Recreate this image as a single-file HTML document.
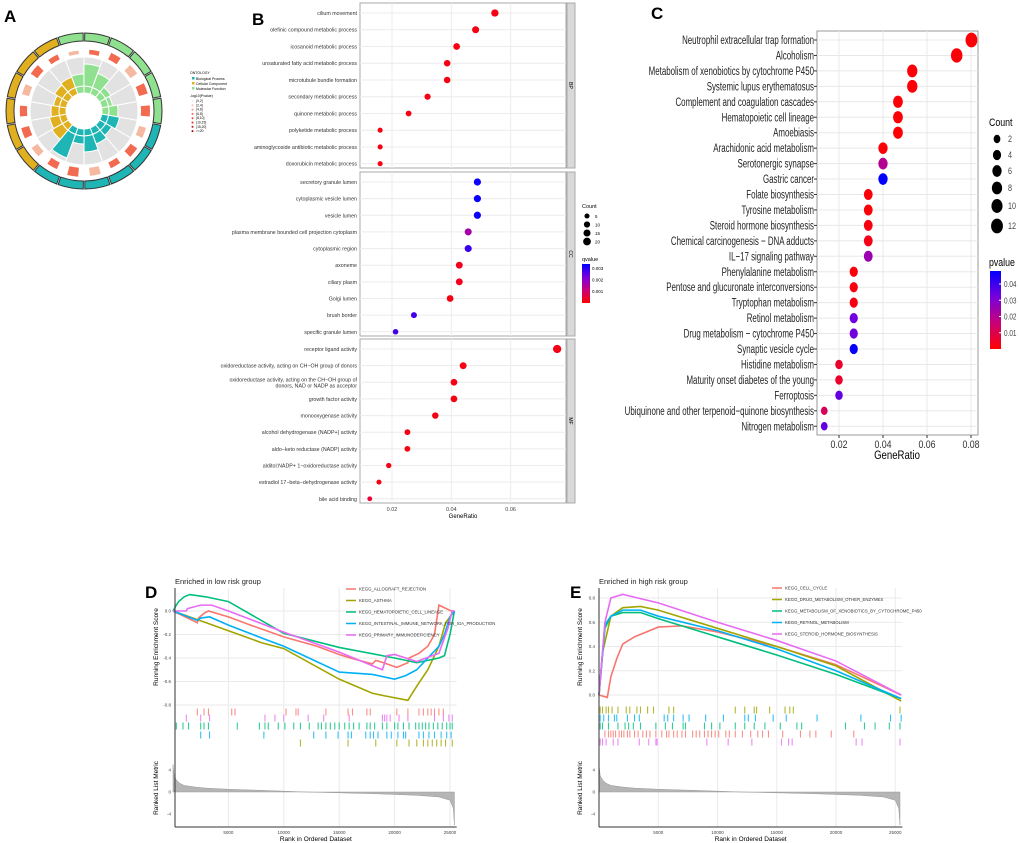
<!DOCTYPE html>
<html><head><meta charset="utf-8"><style>
body{margin:0;background:#fff;}
svg{display:block;font-family:"Liberation Sans",sans-serif;}
</style></head><body>
<svg id="fig" width="1020" height="843" viewBox="0 0 1020 843" xmlns="http://www.w3.org/2000/svg">
<g id="pA"></g>
<g id="pB"></g>
<g id="pC"></g>
<g id="pD"></g>
<g id="pE"></g>
</svg>
<script>
// ---------- Panel B data ----------
const bpTerms=["cilium movement","olefinic compound metabolic process","icosanoid metabolic process","unsaturated fatty acid metabolic process","microtubule bundle formation","secondary metabolic process","quinone metabolic process","polyketide metabolic process","aminoglycoside antibiotic metabolic process","doxorubicin metabolic process"];
const bpRatio=[0.0547,0.0482,0.0418,0.0386,0.0386,0.032,0.0256,0.016,0.016,0.016];
const bpCount=[17,15,13,12,12,10,8,5,5,5];
const bpQ=[0.0002,0.0002,0.0002,0.0002,0.0002,0.0002,0.0002,0.0002,0.0002,0.0002];
const ccTerms=["secretory granule lumen","cytoplasmic vesicle lumen","vesicle lumen","plasma membrane bounded cell projection cytoplasm","cytoplasmic region","axoneme","ciliary plasm","Golgi lumen","brush border","specific granule lumen"];
const ccRatio=[0.0488,0.0488,0.0488,0.0457,0.0457,0.0427,0.0427,0.0396,0.0274,0.0212];
const ccCount=[16,16,16,15,15,14,14,13,9,7];
const ccQ=[0.0036,0.0036,0.0036,0.0018,0.0031,0.0003,0.0003,0.0002,0.003,0.003];
const mfTerms=["receptor ligand activity","oxidoreductase activity, acting on CH\u2212OH group of donors","oxidoreductase activity, acting on the CH\u2212OH group of|donors, NAD or NADP as acceptor","growth factor activity","monooxygenase activity","alcohol dehydrogenase (NADP+) activity","aldo\u2212keto reductase (NADP) activity","alditol:NADP+ 1\u2212oxidoreductase activity","estradiol 17\u2212beta\u2212dehydrogenase activity","bile acid binding"];
const mfRatio=[0.0757,0.044,0.0409,0.0409,0.0346,0.0252,0.0252,0.0189,0.0156,0.0125];
const mfCount=[24,14,13,13,11,8,8,6,5,4];
const mfQ=[0.0002,0.0002,0.0002,0.0002,0.0002,0.0002,0.0002,0.0002,0.0002,0.0005];
const bXTicks=[0.02,0.04,0.06];
// ---------- Panel C data ----------
const cTerms=["Neutrophil extracellular trap formation","Alcoholism","Metabolism of xenobiotics by cytochrome P450","Systemic lupus erythematosus","Complement and coagulation cascades","Hematopoietic cell lineage","Amoebiasis","Arachidonic acid metabolism","Serotonergic synapse","Gastric cancer","Folate biosynthesis","Tyrosine metabolism","Steroid hormone biosynthesis","Chemical carcinogenesis \u2212 DNA adducts","IL\u221217 signaling pathway","Phenylalanine metabolism","Pentose and glucuronate interconversions","Tryptophan metabolism","Retinol metabolism","Drug metabolism \u2212 cytochrome P450","Synaptic vesicle cycle","Histidine metabolism","Maturity onset diabetes of the young","Ferroptosis","Ubiquinone and other terpenoid\u2212quinone biosynthesis","Nitrogen metabolism"];
const cRatio=[0.0802,0.0735,0.0533,0.0533,0.0468,0.0468,0.0468,0.04,0.04,0.04,0.0333,0.0333,0.0333,0.0333,0.0333,0.0267,0.0267,0.0267,0.0267,0.0267,0.0267,0.02,0.02,0.02,0.0133,0.0133];
const cCount=[12,11,8,8,7,7,7,6,6,6,5,5,5,5,5,4,4,4,4,4,4,3,3,3,2,2];
const cP=[0.001,0.001,0.001,0.001,0.001,0.001,0.001,0.001,0.02,0.048,0.001,0.001,0.002,0.003,0.025,0.001,0.002,0.002,0.033,0.033,0.047,0.006,0.006,0.035,0.012,0.035];
const cXTicks=[0.02,0.04,0.06,0.08];
const cCountLegend=[2,4,6,8,10,12];
const cPLegend=[0.01,0.02,0.03,0.04];
// ---------- Panel D data (rank in thousands, ES) ----------
const dNames=["KEGG_ALLOGRAFT_REJECTION","KEGG_ASTHMA","KEGG_HEMATOPOIETIC_CELL_LINEAGE","KEGG_INTESTINAL_IMMUNE_NETWORK_FOR_IGA_PRODUCTION","KEGG_PRIMARY_IMMUNODEFICIENCY"];
const dRedX=[0,2.2,2.3,2.8,3.2,5,7,10,13,15,16,18,18.3,19,20.2,21.2,21.3,22.2,23,23.6,24,25.1,25.4];
const dRedY=[0,-0.1,-0.06,-0.02,0,-0.05,-0.12,-0.22,-0.3,-0.37,-0.4,-0.45,-0.42,-0.44,-0.48,-0.44,-0.4,-0.36,-0.3,-0.2,0.05,0,0];
const dOliveX=[0,3,8,10,15,18,19,21.2,22,23,24,24.6,25,25.4];
const dOliveY=[0,-0.1,-0.27,-0.32,-0.58,-0.7,-0.72,-0.76,-0.64,-0.5,-0.3,-0.1,-0.05,0];
const dGreenX=[0,0.3,0.5,1,1.5,3,5,10,15,20,21.5,22,23,24,24.5,25,25.4];
const dGreenY=[0,0.05,0.08,0.12,0.14,0.12,0.08,-0.19,-0.31,-0.4,-0.43,-0.44,-0.42,-0.4,-0.38,-0.2,0];
const dBlueX=[0,2.2,2.5,3.3,5,8.3,10,15,18,20,21,22,23,24,24.5,25,25.4];
const dBlueY=[0,-0.08,-0.06,-0.05,-0.12,-0.24,-0.3,-0.52,-0.54,-0.58,-0.55,-0.5,-0.4,-0.3,-0.2,-0.05,0];
const dMagX=[0,1.2,1.3,2.5,3.5,5,10,15,18.9,19.3,20,22,24,24.8,25.2,25.4];
const dMagY=[0,0,0.02,0.05,0.05,0,-0.18,-0.35,-0.5,-0.38,-0.37,-0.43,-0.36,-0.15,0,0];
const dHitsRed=[2.2,2.8,3.2,5.3,5.6,10.2,11.1,11.3,13.8,15.8,16.2,17.5,17.8,20.2,21.2,22.2,22.6,23,23.3,23.6,24,24.4];
const dHitsMag=[1.2,2.5,3.3,8.3,9.2,10,12.2,13.6,15.9,18.9,19.1,19.3,19.6,20.4,21.2,23.6,24.4,24.9,25.2];
const dHitsGreen=[0.3,0.9,1.4,2.5,2.8,3.2,5.8,7.8,8.3,8.6,9.5,10.1,10.9,11.5,12.3,13.1,13.4,13.8,14.2,14.6,15,15.5,15.9,16.3,16.8,17.5,17.8,18.2,18.9,19.3,20,20.3,20.8,21.3,21.9,22.2,22.5,22.8,23.1,23.5,23.9,24.3,24.7,25,25.2];
const dHitsBlue=[2.5,3.3,8.2,12.7,13.8,14.9,15.8,16.1,17.4,17.8,18.1,18.5,19.3,19.7,20.3,20.8,21,22.2,22.6,23.1,23.6,24.2,24.7,25.1];
const dHitsOlive=[11.5,15.8,18.3,20.2,21.3,22,22.6,23,23.4,23.8,24.2,24.6,25.2];
// ---------- Panel E data ----------
const eNames=["KEGG_CELL_CYCLE","KEGG_DRUG_METABOLISM_OTHER_ENZYMES","KEGG_METABOLISM_OF_XENOBIOTICS_BY_CYTOCHROME_P450","KEGG_RETINOL_METABOLISM","KEGG_STEROID_HORMONE_BIOSYNTHESIS"];
const eRedX=[0,0.7,1,1.5,2,3,5,7,10,15,20,25.5];
const eRedY=[0,-0.02,0.15,0.3,0.42,0.48,0.56,0.57,0.52,0.4,0.25,0];
const eOliveX=[0,0.3,1,2,3.5,5,10,15,20,25.5];
const eOliveY=[0,0.35,0.65,0.72,0.73,0.7,0.55,0.4,0.24,-0.05];
const eGreenX=[0,0.5,1,2,3.5,5,10,15,20,25.5];
const eGreenY=[0,0.55,0.65,0.68,0.68,0.63,0.48,0.33,0.17,-0.03];
const eBlueX=[0,0.5,1,2,3.5,5,10,15,20,25.5];
const eBlueY=[0,0.58,0.65,0.7,0.7,0.65,0.53,0.38,0.2,-0.03];
const eMagX=[0,0.5,1,2,5,10,15,20,25.5];
const eMagY=[0,0.6,0.8,0.83,0.76,0.6,0.45,0.28,0];
const eHitsOlive=[0.1,0.3,0.6,0.8,1.1,1.6,2.3,2.6,3.2,3.5,4.1,4.6,5.9,6.3,11.5,12.3,13.1,13.3,14.4,15.7,16.1,16.4,25.4];
const eHitsBlue=[0.1,0.4,0.8,1.3,1.5,2.4,3.0,3.4,5.5,5.8,6.3,7.1,7.6,9.0,10.5,12.3,12.6,13.2,14.7,15.8,18.4,22.1,24.6,25.5];
const eHitsGreen=[0.1,0.3,0.8,1.6,2.2,2.5,2.9,3.5,4.8,5.6,6.2,7.1,7.3,8.9,9.5,10.2,11.5,12.3,13.1,14.0,15.3,16.7,17.1,20.8,22.4,23.3,24.5,25.4];
const eHitsRed=[0.5,0.8,1.0,1.2,1.4,1.7,1.9,2.1,2.4,2.6,3.0,3.3,3.7,4.0,4.3,4.8,5.3,5.7,5.9,6.3,6.6,7.0,7.3,7.9,8.2,8.5,8.9,9.2,9.5,9.8,10.1,10.7,11.0,11.5,12.1,12.8,13.4,13.8,14.3,15.5,17.0,17.8,18.3,19.6,21.5];
const eHitsMag=[0.1,0.3,0.6,1.2,1.6,3.4,4.2,4.8,4.9,9.1,10.9,12.9,15.4,16.0,16.3,21.7,22.2,25.4];
// ranked list metric (rank k, metric)
const rankX=[0,0.1,0.3,0.6,1,2,3,5,8,10,12,15,18,20,22,24,25,25.3,25.4];
const rankY=[5,3,2.2,1.6,1.2,0.9,0.7,0.5,0.3,0.15,0,-0.15,-0.3,-0.45,-0.6,-0.9,-1.5,-3,-6];
const rankXTicks=[5000,10000,15000,20000,25000];

const NS="http://www.w3.org/2000/svg";
function mk(parent,tag,attrs,text){const e=document.createElementNS(NS,tag);for(const k in attrs)e.setAttribute(k,attrs[k]);if(text!==undefined)e.textContent=text;parent.appendChild(e);return e;}
function lerpColor(t,stops){t=Math.max(0,Math.min(1,t));const n=stops.length-1;const i=Math.min(n-1,Math.floor(t*n));const f=t*n-i;const a=stops[i],b=stops[i+1];return `rgb(${Math.round(a[0]+(b[0]-a[0])*f)},${Math.round(a[1]+(b[1]-a[1])*f)},${Math.round(a[2]+(b[2]-a[2])*f)})`;}
const RB=[[255,0,0],[200,0,120],[120,0,220],[0,0,255]];

// ---------- Panel A ----------
(function(){
const g=document.getElementById('pA');
const t=mk(g,'text',{x:4,y:22,'font-size':17,'font-weight':'bold'},'A');

const cx=84,cy=111;
function arc(r1,r2,a1,a2,fill,stroke){const p=(r,a)=>[cx+r*Math.sin(a),cy-r*Math.cos(a)];const [x1,y1]=p(r2,a1),[x2,y2]=p(r2,a2),[x3,y3]=p(r1,a2),[x4,y4]=p(r1,a1);const lg=(a2-a1)>Math.PI?1:0;return mk(g,'path',{d:`M${x1},${y1}A${r2},${r2} 0 ${lg} 1 ${x2},${y2}L${x3},${y3}A${r1},${r1} 0 ${lg} 0 ${x4},${y4}Z`,fill:fill,stroke:stroke||'#fff','stroke-width':1});}
const segCols=["#8fe08f","#8fe08f","#8fe08f","#8fe08f","#8fe08f","#8fe08f","#1fb5b5","#1fb5b5","#1fb5b5","#1fb5b5","#1fb5b5","#1fb5b5","#e0b020","#e0b020","#e0b020","#e0b020","#e0b020","#e0b020"];
const barH=[12,22,15,6,4,9,11,7,10,16,8,25,12,10,8,6,9,11];
const redL=[4,5,8,9,10,10,8,9,7,9,10,8,8,9,8,8,9,6];
const n=18,step=2*Math.PI/n,off=-0.35;
for(let i=0;i<n;i++){const a1=off+i*step,a2=a1+step;
 const s=arc(70,78,a1+0.01,a2-0.01,segCols[i],'#333');
 const gr=arc(25,54,a1,a2,'#e2e2e2','#fff');
 const r=arc(57,57+redL[i]*0.9,a1+0.09,a2-0.09,i%3===0?'#f5b8a0':'#f26a4f','none');
 const inner=arc(18,25,a1,a2,segCols[i],'#fff');
 const b=arc(25,25+barH[i],a1,a2,segCols[i],'#fff');}
const lg=[["ONTOLOGY",190,74,'#000'],["Biological Process",196,80,'#1fb5b5'],["Cellular Component",196,85,'#e0b020'],["Molecular Function",196,90,'#8fe08f'],["-log10(Pvalue)",190,97,'#000']];
lg.forEach(l=>{const tt=mk(g,'text',{x:l[1],y:l[2],'font-size':3.5,fill:'#000'},l[0]);if(l[3]!=='#000')mk(g,'rect',{x:l[1]-4,y:l[2]-3,width:2.5,height:2.5,fill:l[3]});});
["(0,2]","(2,4]","(4,6]","(6,8]","(8,10]","(10,15]","(15,20]",">=20"].forEach((s,i)=>{const tt=mk(g,'text',{x:196,y:102+i*4.3,'font-size':3.3},s);mk(g,'circle',{cx:192.5,cy:101+i*4.3,r:1,fill:lerpColor(i/7,[[250,230,220],[255,80,60],[180,0,0]])});});
})();

// ---------- Panel B ----------
(function(){
const g=document.getElementById('pB');
const lab=mk(g,'text',{x:252,y:25,'font-size':17,'font-weight':'bold'},'B');
const x0=360,x1=566;
const X=v=>392+(v-0.02)/0.02*59.3;
const facets=[[bpTerms,bpRatio,bpCount,bpQ,3,168,'BP'],[ccTerms,ccRatio,ccCount,ccQ,172,336,'CC'],[mfTerms,mfRatio,mfCount,mfQ,339,503,'MF']];
facets.forEach(f=>{const [terms,ratio,count,q,top,bot,name]=f;
 const fr=mk(g,'rect',{x:x0,y:top,width:x1-x0,height:bot-top,fill:'#fff',stroke:'#aaa','stroke-width':1});
 const st=mk(g,'rect',{x:x1+1,y:top,width:8,height:bot-top,fill:'#d9d9d9',stroke:'#aaa'});
 const sl=mk(g,'text',{x:x1+5,y:(top+bot)/2,'font-size':5,'text-anchor':'middle',transform:`rotate(90 ${x1+5} ${(top+bot)/2})`,dy:2},name);
 bXTicks.forEach(v=>mk(g,'line',{x1:X(v),x2:X(v),y1:top,y2:bot,stroke:'#ececec'}));
 const step=(bot-top-10)/9.6;
 terms.forEach((t,i)=>{const y=top+10+i*step*1.0+ (i*0.6);
  mk(g,'line',{x1:x0,x2:x1,y1:y,y2:y,stroke:'#ececec'});
  const parts=t.split('|');
  parts.forEach((p,j)=>{const tt=mk(g,'text',{x:357,y:y+2+(parts.length>1?(j-0.5)*6:0),'font-size':5.3,'text-anchor':'end',fill:'#333'},p);});
  const c=mk(g,'circle',{cx:X(ratio[i]),cy:y,r:1.2+Math.sqrt(count[i])*0.6,fill:lerpColor(q[i]/0.0037,RB)});
 });
});
bXTicks.forEach(v=>{const tt=mk(g,'text',{x:X(v),y:511,'font-size':5.5,'text-anchor':'middle',fill:'#444'},v.toFixed(2));});
const xt=mk(g,'text',{x:463,y:518,'font-size':6,'text-anchor':'middle'},'GeneRatio');
const ct=mk(g,'text',{x:582,y:208,'font-size':5.5},'Count');
[5,10,15,20].forEach((v,i)=>{mk(g,'circle',{cx:587,cy:216+i*8.5,r:1.2+Math.sqrt(v)*0.6,fill:'#000'});const tt=mk(g,'text',{x:595,y:218+i*8.5,'font-size':4.5},v);});
const qt=mk(g,'text',{x:582,y:261,'font-size':5.5},'qvalue');
const gd=mk(g,'defs',{});const lgd=mk(gd,'linearGradient',{id:'gB',x1:0,y1:1,x2:0,y2:0});RB.forEach((c,i)=>mk(lgd,'stop',{offset:i/3,'stop-color':`rgb(${c})`}));
const cb=mk(g,'rect',{x:582,y:264,width:8,height:39,fill:'url(#gB)'});
["0.003","0.002","0.001"].forEach((s,i)=>{const tt=mk(g,'text',{x:592,y:270+i*11.5,'font-size':4.5},s);});
})();

// ---------- Panel C ----------
(function(){
const g=document.getElementById('pC');
const lab=mk(g,'text',{x:651,y:19,'font-size':17,'font-weight':'bold'},'C');
const X=v=>839+(v-0.02)/0.02*44;
const top=31,bot=435,x0=817,x1=978;
const fr=mk(g,'rect',{x:x0,y:top,width:x1-x0,height:bot-top,fill:'#fff',stroke:'#999'});
cXTicks.forEach(v=>{mk(g,'line',{x1:X(v),x2:X(v),y1:top,y2:bot,stroke:'#e8e8e8'});mk(g,'line',{x1:X(v),x2:X(v),y1:bot,y2:bot+3,stroke:'#333'});const tt=mk(g,'text',{x:0,y:0,'font-size':11,'text-anchor':'middle',fill:'#333',transform:`translate(${X(v)},${bot+13}) scale(0.8,1)`},v.toFixed(2));});
const xt=mk(g,'text',{x:0,y:0,'font-size':12,'text-anchor':'middle',transform:`translate(897,459) scale(0.8,1)`},'GeneRatio');
cTerms.forEach((t,i)=>{const y=40+i*15.45;
 mk(g,'line',{x1:x0,x2:x1,y1:y,y2:y,stroke:'#e8e8e8'});mk(g,'line',{x1:x0-3,x2:x0,y1:y,y2:y,stroke:'#333'});
 const tt=mk(g,'text',{x:0,y:0,'font-size':12,'text-anchor':'end',fill:'#222',transform:`translate(814,${y+4}) scale(0.66,1)`},t);
 const r=1.6+Math.sqrt(cCount[i])*1.25;
 const e=mk(g,'ellipse',{cx:X(cRatio[i]),cy:y,rx:r,ry:r*1.25,fill:lerpColor(cP[i]/0.048,RB)});
});
const ct=mk(g,'text',{x:0,y:0,'font-size':11,transform:'translate(989,126) scale(0.8,1)'},'Count');
const ly=[139,155,171,188,206,226];
cCountLegend.forEach((v,i)=>{const r=1.6+Math.sqrt(v)*1.25;mk(g,'ellipse',{cx:997,cy:ly[i],rx:r,ry:r*1.25,fill:'#000'});const tt=mk(g,'text',{x:0,y:0,'font-size':9,fill:'#444',transform:`translate(1008,${ly[i]+3}) scale(0.8,1)`},v);});
const pt=mk(g,'text',{x:0,y:0,'font-size':11,transform:'translate(989,266) scale(0.8,1)'},'pvalue');
const gd=mk(g,'defs',{});const lgd=mk(gd,'linearGradient',{id:'gC',x1:0,y1:1,x2:0,y2:0});RB.forEach((c,i)=>mk(lgd,'stop',{offset:i/3,'stop-color':`rgb(${c})`}));
const cb=mk(g,'rect',{x:990,y:271,width:11,height:78,fill:'url(#gC)'});
cPLegend.forEach(v=>{const y=349-v/0.048*78;mk(g,'line',{x1:999,x2:1001,y1:y,y2:y,stroke:'#fff'});const tt=mk(g,'text',{x:0,y:0,'font-size':8,fill:'#444',transform:`translate(1004,${y+3}) scale(0.8,1)`},v.toFixed(2));});
})();

// ---------- GSEA panels ----------
function gsea(gid,letter,lx,title,ax,names,series,hits,hitRowsY,esTicks,esZeroY,esPer,xZero,xPer5k,legX){
const g=document.getElementById(gid);
const lab=mk(g,'text',{x:lx,y:598,'font-size':17,'font-weight':'bold'},letter);
const X=k=>xZero+k*1000/5000*xPer5k;
const Y=v=>esZeroY-v*esPer;
const left=ax,right=X(25.6);
const tt=mk(g,'text',{x:left,y:584,'font-size':7.5,fill:'#222'},title);
[[588,706],[706,748],[748,827]].forEach(r=>{rankXTicks.forEach(v=>mk(g,'line',{x1:X(v/1000),x2:X(v/1000),y1:r[0],y2:r[1],stroke:'#eaeaea','stroke-width':1}));});
esTicks.forEach(v=>{mk(g,'line',{x1:left,x2:right,y1:Y(v),y2:Y(v),stroke:'#eaeaea'});const t=mk(g,'text',{x:left-4,y:Y(v)+1.5,'font-size':4.5,'text-anchor':'end',fill:'#444'},v.toFixed(1));});
const yl=mk(g,'text',{x:0,y:0,'font-size':6.5,'text-anchor':'middle',transform:`translate(${left-17},647) rotate(-90)`},'Running Enrichment Score');
series.forEach((s,i)=>{const pts=s[0].map((k,j)=>X(k)+','+Y(s[1][j])).join(' ');const p=mk(g,'polyline',{points:pts,fill:'none',stroke:s[2],'stroke-width':1.6});});
series.forEach((s,i)=>{const y=(gid==='pD'?589:588)+i*11.5;mk(g,'line',{x1:legX,x2:legX+10,y1:y,y2:y,stroke:s[2],'stroke-width':1.5});const t=mk(g,'text',{x:legX+13,y:y+1.5,'font-size':4.3,fill:'#333'},names[i]);});
hits.forEach((h,i)=>{h.forEach(k=>{const l=mk(g,'line',{x1:X(k),x2:X(k),y1:hitRowsY[i][0]-3.5,y2:hitRowsY[i][0]+3.5,stroke:hitRowsY[i][1],'stroke-width':1.1,'stroke-opacity':0.8});});});
const RY=v=>792-v*5.5;
let d=`M${X(rankX[0])},792`;rankX.forEach((k,j)=>{d+=`L${X(k)},${RY(rankY[j])}`;});d+=`L${X(rankX[rankX.length-1])},792Z`;
const ar=mk(g,'path',{d:d,fill:'#b5b5b5',stroke:'#999','stroke-width':0.5});
[4,0,-4].forEach(v=>{const t=mk(g,'text',{x:left-4,y:RY(v)+1.5,'font-size':4.5,'text-anchor':'end',fill:'#444'},v);});
const rl=mk(g,'text',{x:0,y:0,'font-size':6.5,'text-anchor':'middle',transform:`translate(${left-17},788) rotate(-90)`},'Ranked List Metric');
mk(g,'line',{x1:left,x2:left,y1:588,y2:827,stroke:'#333','stroke-width':1});
mk(g,'line',{x1:left,x2:right,y1:827,y2:827,stroke:'#333','stroke-width':1});
rankXTicks.forEach(v=>{const t=mk(g,'text',{x:X(v/1000),y:834,'font-size':4.5,'text-anchor':'middle',fill:'#444'},v);});
const xl=mk(g,'text',{x:(left+right)/2,y:841,'font-size':6.5,'text-anchor':'middle'},'Rank in Ordered Dataset');
}
const C_RED='#f8766d',C_OLV='#a3a500',C_GRN='#00bf7d',C_BLU='#00b0f6',C_MAG='#e76bf3';
gsea('pD','D',145,'Enriched in low risk group',175,dNames,
 [[dRedX,dRedY,C_RED],[dOliveX,dOliveY,C_OLV],[dGreenX,dGreenY,C_GRN],[dBlueX,dBlueY,C_BLU],[dMagX,dMagY,C_MAG]],
 [dHitsRed,dHitsMag,dHitsGreen,dHitsBlue,dHitsOlive],[[712,C_RED],[718,C_MAG],[726,C_GRN],[735,C_BLU],[743,C_OLV]],
 [0,-0.2,-0.4,-0.6,-0.8],611,117.5,173,55.4,346);
gsea('pE','E',570,'Enriched in high risk group',599,eNames,
 [[eRedX,eRedY,C_RED],[eOliveX,eOliveY,C_OLV],[eGreenX,eGreenY,C_GRN],[eBlueX,eBlueY,C_BLU],[eMagX,eMagY,C_MAG]],
 [eHitsOlive,eHitsBlue,eHitsGreen,eHitsRed,eHitsMag],[[710,C_OLV],[718,C_BLU],[726,C_GRN],[734,C_RED],[742,C_MAG]],
 [0,0.2,0.4,0.6,0.8],695,121.25,599,59.25,772);
</script>
</body></html>
